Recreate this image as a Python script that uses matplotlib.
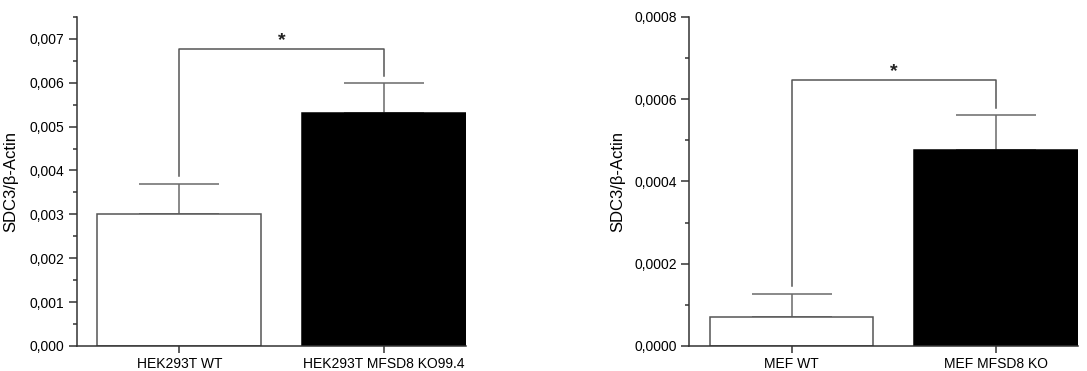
import matplotlib
matplotlib.use("Agg")
import matplotlib.pyplot as plt
from matplotlib.ticker import MultipleLocator, FuncFormatter

plt.rcParams['font.family'] = ['Liberation Sans', 'DejaVu Sans']

# panel A: HEK293T
hek_labels = ["HEK293T WT", "HEK293T MFSD8 KO99.4"]
hek_values = [0.00301, 0.00531]
hek_err = [0.00069, 0.00068]
hek_bracket = [0.00388, 0.00677, 0.00616]  # left drop, top, right drop

# panel B: MEF
mef_labels = ["MEF WT", "MEF MFSD8 KO"]
mef_values = [0.0000705, 0.000477]
mef_err = [0.000056, 0.000084]
mef_bracket = [0.000145, 0.000646, 0.000579]

ylabel = "SDC3/β-Actin"
axis_col = "#333333"
err_col = "#6a6a6a"

fig = plt.figure(figsize=(10.87, 3.71), dpi=100)
ax1 = fig.add_axes([0.0708, 0.0674, 0.358, 0.887])
ax2 = fig.add_axes([0.6341, 0.0674, 0.3576, 0.887])


def draw_panel(ax, labels, values, err, bracket, ymax, major, minor, ndec, lab_x):
    x = list(range(len(values)))
    ax.bar(x, values, width=0.8, color=["white", "black"],
           edgecolor=["#555555", "black"], linewidth=1.1, zorder=2)
    ax.errorbar(x, values, yerr=[[0] * len(err), err], fmt="none",
                ecolor=err_col, elinewidth=1.1, capsize=29, capthick=1.1, zorder=1)
    # significance bracket
    ax.plot([x[0], x[0], x[1], x[1]], [bracket[0], bracket[1], bracket[1], bracket[2]],
            color="#555555", lw=1.1, zorder=3)
    ax.text((x[0] + x[1]) / 2, bracket[1], "*", ha="center", va="bottom",
            fontsize=14, fontweight="bold", color="#222222")

    ax.set_xlim(-0.5, 1.4)
    ax.set_ylim(0, ymax)
    ax.set_xticks(x)
    ax.set_xticklabels(labels, fontsize=10)
    ax.yaxis.set_major_locator(MultipleLocator(major))
    ax.yaxis.set_minor_locator(MultipleLocator(minor))
    ax.yaxis.set_major_formatter(FuncFormatter(lambda v, p: f"{v:.{ndec}f}".replace(".", ",")))
    ax.tick_params(axis="y", which="major", length=6, width=1.1, color=axis_col,
                   labelsize=10, pad=3)
    ax.tick_params(axis="y", which="minor", length=3, width=1.1, color=axis_col)
    ax.tick_params(axis="x", which="major", length=5, width=1.1, color=axis_col,
                   labelsize=10, pad=3)
    ax.set_ylabel(ylabel, fontsize=12)
    ax.yaxis.set_label_coords(lab_x, 0.5)
    for s in ["top", "right"]:
        ax.spines[s].set_visible(False)
    for s in ["left", "bottom"]:
        ax.spines[s].set_color(axis_col)
        ax.spines[s].set_linewidth(1.1)


draw_panel(ax1, hek_labels, hek_values, hek_err, hek_bracket, 0.0075, 0.001, 0.0005, 3, -0.152)
draw_panel(ax2, mef_labels, mef_values, mef_err, mef_bracket, 0.0008, 0.0002, 0.0001, 4, -0.165)

fig.savefig("out.png", dpi=100)
